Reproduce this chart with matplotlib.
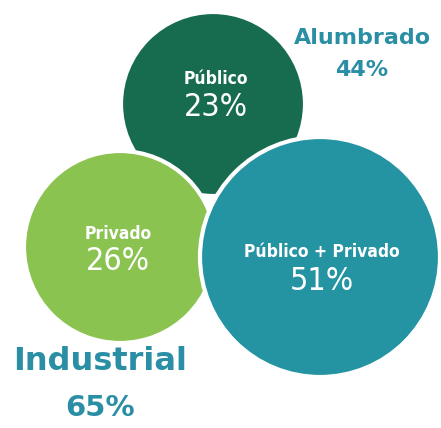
import matplotlib
matplotlib.use("Agg")
import matplotlib.pyplot as plt
from matplotlib.patches import Circle

# segments (drawn bottom to top) and their share
labels = ["Público", "Privado", "Público + Privado"]
shares = [23, 26, 51]
colors = ["#176b4e", "#8bc350", "#2594a2"]

# sector totals
sectors = ["Alumbrado", "Industrial"]
sector_shares = [44, 65]
TEXT_TEAL = "#2a8fa5"

# layout in pixel coords (x, y, radius)
bubbles = [(213, 104, 92), (120, 247, 96), (320, 257, 120)]
label_pos = [(216, 79, 107), (118, 234, 261), (322, 252, 282)]
sector_pos = [(362, 38, 70), (100, 362, 408)]

fig = plt.figure(figsize=(4.41, 4.28), dpi=100)
ax = fig.add_axes([0, 0, 1, 1])
ax.set_xlim(0, 441)
ax.set_ylim(428, 0)
ax.set_aspect("equal")
ax.axis("off")

for (cx, cy, r), c in zip(bubbles, colors):
    ax.add_patch(Circle((cx, cy), r, facecolor=c, edgecolor="white", lw=3))

for lab, val, (x, y1, y2) in zip(labels, shares, label_pos):
    ax.text(x, y1, lab, color="white", fontsize=12.5, fontweight="bold",
            fontstretch="condensed", ha="center", va="center")
    ax.text(x, y2, f"{val}%", color="white", fontsize=23,
            fontstretch="condensed", ha="center", va="center")

big = [(16, 16), (23, 21)]
for name, val, (x, y1, y2), (fs1, fs2) in zip(sectors, sector_shares, sector_pos, big):
    ax.text(x, y1, name, color=TEXT_TEAL, fontsize=fs1, fontweight="bold",
            ha="center", va="center")
    ax.text(x, y2, f"{val}%", color=TEXT_TEAL, fontsize=fs2, fontweight="bold",
            ha="center", va="center")

fig.savefig("out.png", dpi=100)
